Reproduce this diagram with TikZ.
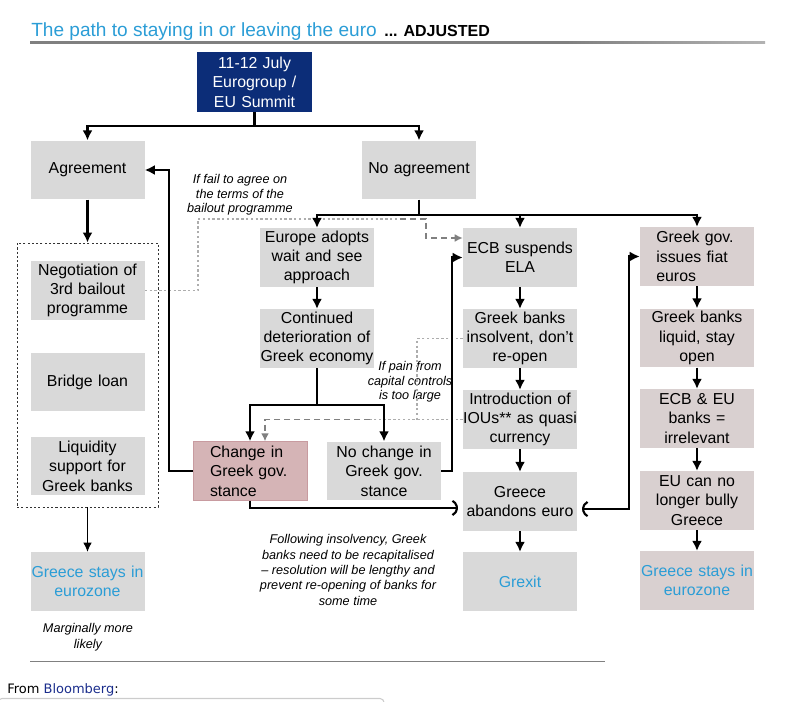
\documentclass[tikz,border=0pt]{standalone}
\usepackage{fontspec}
\setmainfont{Liberation Sans}
\newfontfamily\dejavu{DejaVu Sans}
\usetikzlibrary{arrows.meta,calc}
\definecolor{boxgray}{RGB}{217,217,217}
\definecolor{boxpink}{RGB}{217,208,208}
\definecolor{boxrose}{RGB}{213,180,182}
\definecolor{roseedge}{RGB}{200,155,160}
\definecolor{navy}{RGB}{12,45,120}
\definecolor{titleblue}{RGB}{43,157,214}
\definecolor{bbblue}{RGB}{26,45,140}
\newcommand{\bxf}{\fontsize{11.9}{14.5}\selectfont}
\newcommand{\ntf}{\itshape\fontsize{9.5}{10.9}\selectfont}
\begin{document}
\begin{tikzpicture}[x=0.75pt,y=-0.75pt,
  box/.style={rectangle, fill=boxgray, minimum width=85.5pt, minimum height=44pt,
    inner sep=0pt, align=center, text width=85.5pt, font=\bxf},
  pbox/.style={box, fill=boxpink},
  rosebox/.style={box, fill=boxrose, draw=roseedge, line width=0.6pt},
  topbox/.style={box, fill=navy, text=white, minimum width=86pt, minimum height=45pt},
  grp/.style={rectangle, draw=black!80, dash pattern=on 1.6pt off 1.6pt, line width=0.7pt,
    minimum width=105.75pt, minimum height=198pt, inner sep=0pt},
  note/.style={font=\ntf, align=center, inner sep=0pt},
  ln/.style={line width=1.6pt, line join=miter},
  arr/.style={ln, -{Latex[length=7.5pt,width=7.5pt]}},
  thinarr/.style={line width=0.9pt, -{Latex[length=7pt,width=6.5pt]}},
  dotgray/.style={draw=black!32, line width=0.8pt, dash pattern=on 1.8pt off 1.8pt},
  dashgray/.style={draw=black!50, line width=1.2pt, dash pattern=on 4.5pt off 3pt,
    -{Latex[length=6pt,width=6pt]}}
]
\useasboundingbox (0,0) rectangle (800,702);

% title
\node[anchor=base west, inner sep=0pt, font=\fontsize{14.3}{16}\selectfont, text=titleblue] (title) at (31,37) {The path to staying in or leaving the euro};
\node[anchor=base west, inner sep=0pt, font=\bfseries\fontsize{12}{14}\selectfont] (adj) at ($(title.base east)+(7,0)$) {... ADJUSTED};
\fill[black!50] (30,41.3) rectangle (565,43.6);
\shade[left color=black!50, right color=black!30] (565,41.3) rectangle (765,43.6);

% nodes
\node[topbox] (top) at (254.5,82) {11-12 July\\Eurogroup /\\EU Summit};
\node[box] (agree) at (87.5,170) {Agreement};
\node[box] (noagree) at (419,170) {No agreement};
\node[box] (europe) at (317,257.5) {Europe adopts\\wait and see\\approach};
\node[box] (contd) at (317,338.5) {Continued\\deterioration of\\Greek economy};
\node[rosebox, align=left, text width=60pt] (change) at (250,471) {Change in\\Greek gov.\\stance};
\node[box] (nochange) at (384,471) {No change in\\Greek gov.\\stance};
\node[box] (ecb) at (520,257.5) {ECB suspends\\ELA};
\node[box] (insolv) at (520,338.5) {Greek banks\\insolvent, don't\\re-open};
\node[box] (ious) at (520,419.5) {Introduction of\\IOUs** as quasi\\currency};
\node[box] (abandon) at (520,501.5) {Greece\\abandons euro};
\node[box, text=titleblue] (grexit) at (520,581.5) {Grexit};
\node[pbox, align=left, text width=61pt] (fiat) at (697,256.5) {Greek gov.\\issues fiat\\euros};
\node[pbox] (liquid) at (697,338) {Greek banks\\liquid, stay\\open};
\node[pbox] (irrel) at (697,418.5) {ECB \& EU\\banks =\\irrelevant};
\node[pbox] (bully) at (697,500.5) {EU can no\\longer bully\\Greece};
\node[pbox, text=titleblue] (staysR) at (697,580.5) {Greece stays in\\eurozone};
\node[grp] (grp) at (87.5,375) {};
\node[box] (nego) at (87.5,290.5) {Negotiation of\\3rd bailout\\programme};
\node[box] (bridge) at (87.5,382) {Bridge loan};
\node[box] (liqsup) at (87.5,466) {Liquidity\\support for\\Greek banks};
\node[box, text=titleblue] (staysL) at (87.5,581.5) {Greece stays in\\eurozone};

% notes
\node[note] (n1) at (240,195) {If fail to agree on\\the terms of the\\bailout programme};
\node[note] (n2) at (410,382) {If pain from\\capital controls\\is too large};
\node[note, font=\itshape\fontsize{9.5}{11.6}\selectfont] (n3) at (348,570) {Following insolvency, Greek\\banks need to be recapitalised\\-- resolution will be lengthy and\\prevent re-opening of banks for\\some time};
\node[note, font=\itshape\fontsize{9.5}{12}\selectfont] (n4) at (88,637) {Marginally more\\likely};

% gray dashed connectors
\coordinate (d1) at (198,290.5);
\coordinate (d2) at (198,219);
\coordinate (d3) at (400,219);
\coordinate (d4) at (426,238);
\draw[dotgray] (nego.east) -- (d1) -- (d2) -- (d3);
\draw[dashgray] (d3) -| (d4) -- (ecb.west |- d4);
\coordinate (e1) at (417,338.5);
\coordinate (e2) at (417,419.5);
\coordinate (e3) at (370,419.5);
\coordinate (e4) at (265,419.5);
\draw[dotgray] (insolv.west) -- (e1) -- (e2);
\draw[dotgray] (ious.west) -- (e3);
\draw[dashgray] (e3) -- (e4) -- (e4 |- change.north);

% black connectors
\coordinate (j1) at (254.5,126);
\draw[ln] (top.south) -- (j1);
\draw[arr] (j1) -| (agree.north);
\draw[arr] (j1) -| (noagree.north);
\coordinate (j2) at (419,215);
\draw[ln] (noagree.south) -- (j2);
\draw[arr] (j2) -| (europe.north);
\draw[arr] (j2) -| (ecb.north);
\draw[arr] (j2) -| (fiat.north);
\draw[arr] (agree.south) -- (grp.north);
\draw[thinarr] (grp.south) -- (staysL.north);
\draw[arr] (europe) -- (contd);
\coordinate (j3) at (317,405);
\draw[ln] (contd.south) -- (j3);
\draw[arr] (j3) -| (change.north);
\draw[arr] (j3) -| (nochange.north);
\coordinate (l1) at (169,170);
\draw[arr] (change.west) -| (l1) -- (agree.east);
\coordinate (c1) at (458,508);
\draw[ln, -{Arc Barb[arc=120,length=7.5pt,width=14pt]}] (change.south) |- (c1);
\coordinate (l2) at (452,257.5);
\draw[arr] (nochange.east) -| (l2) -- (ecb.west);
\coordinate (c2) at (582,509);
\coordinate (l3) at (629,256.5);
\draw[ln, {Arc Barb[arc=120,length=7.5pt,width=14pt]}-{Latex[length=7.5pt,width=7.5pt]}] (c2) -| (l3) -- (fiat.west);
\draw[arr] (ecb) -- (insolv);
\draw[arr] (insolv) -- (ious);
\draw[arr] (ious) -- (abandon);
\draw[arr] (abandon) -- (grexit);
\draw[arr] (fiat) -- (liquid);
\draw[arr] (liquid) -- (irrel);
\draw[arr] (irrel) -- (bully);
\draw[arr] (bully) -- (staysR);

% footer
\draw[line width=1.2pt, black!50] (30,661.5) -- (605,661.5);
\node[anchor=base west, inner sep=0pt, font=\dejavu\fontsize{9.75}{12}\selectfont] (from) at (7,693) {From \textcolor{bbblue}{Bloomberg}:};
\draw[black!20, line width=0.8pt, rounded corners=3pt] (-2,712) -- (-2,698.5) -- (384,698.5) -- (384,712);
\end{tikzpicture}
\end{document}
